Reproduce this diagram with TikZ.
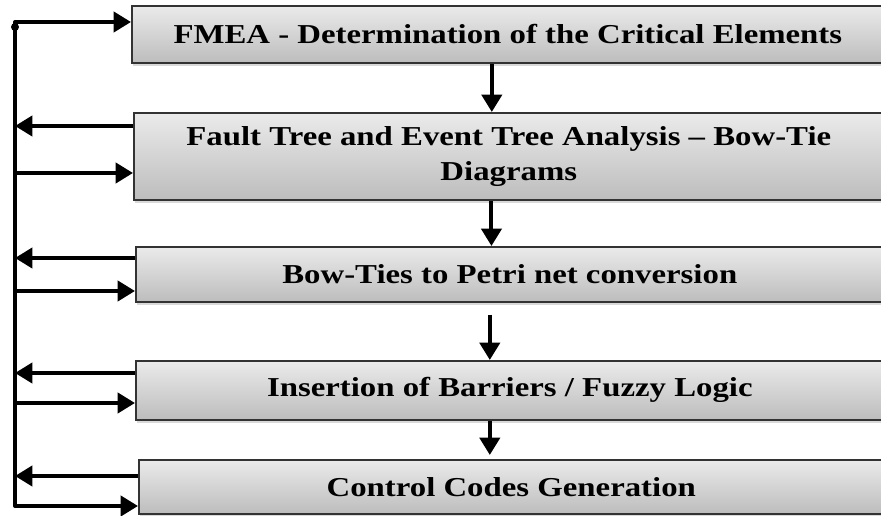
\documentclass[tikz,border=0pt]{standalone}
\usepackage{fontspec}
\newfontfamily\stagefont[FakeStretch=1.2, Ligatures=TeX]{Liberation Serif}
\usetikzlibrary{positioning}
\usetikzlibrary{arrows.meta, shadows}

\tikzset{
  stage/.style={rectangle, draw=black!80, line width=1.2pt, anchor=north west,
    top color=gray!16, bottom color=gray!52,
    drop shadow={shadow xshift=0.6pt, shadow yshift=-2.2pt, opacity=0.3},
    align=center, font=\stagefont\bfseries\fontsize{20.5}{26}\selectfont, inner sep=0pt},
  flow/.style={line width=3pt, -{Triangle[length=13pt, width=15pt]}},
  bus/.style={line width=3pt, line cap=round}
}

\begin{document}
\begin{tikzpicture}[x=0.75pt, y=-0.75pt]
\useasboundingbox (0,0) rectangle (881,516);

\node[stage, minimum width=564pt, minimum height=42.75pt] (fmea) at (131,5) {FMEA - Determination of the Critical Elements};
\node[stage, minimum width=562.5pt, minimum height=65.25pt] (fault) at (133,112) {Fault Tree and Event Tree Analysis – Bow-Tie\\Diagrams};
\node[stage, minimum width=561pt, minimum height=41.25pt] (petri) at (135,246) {Bow-Ties to Petri net conversion};
\node[stage, minimum width=561pt, minimum height=44.25pt] (fuzzy) at (135,360) {Insertion of Barriers / Fuzzy Logic};
\node[stage, minimum width=558.75pt, minimum height=40.5pt] (codes) at (138,459) {Control Codes Generation};

% feedback line on the left
\coordinate (bustop) at (15,22);
\coordinate (busbot) at (15,506);
\coordinate (out2) at (15,126);
\coordinate (in2) at (15,173);
\coordinate (out3) at (15,258);
\coordinate (in3) at (15,291);
\coordinate (out4) at (15,373);
\coordinate (in4) at (15,403);
\coordinate (out5) at (15,476);

\draw[bus] (bustop) -- (busbot);
\fill (15,27) circle (3pt);
\draw[flow] (bustop) -- (fmea.west |- bustop);
\draw[flow] (fault.west |- out2) -- (out2);
\draw[flow] (in2) -- (fault.west |- in2);
\draw[flow] (petri.west |- out3) -- (out3);
\draw[flow] (in3) -- (petri.west |- in3);
\draw[flow] (fuzzy.west |- out4) -- (out4);
\draw[flow] (in4) -- (fuzzy.west |- in4);
\draw[flow] (codes.west |- out5) -- (out5);
\draw[flow] (busbot) -- (codes.west |- busbot);

% steps down
\draw[flow] ([xshift=-12pt]fmea.south) -- ([xshift=-12pt]fmea.south |- fault.north);
\draw[flow] ([xshift=-13pt]fault.south) -- ([xshift=-13pt]fault.south |- petri.north);
\draw[flow] ([xshift=-15pt, yshift=-9pt]petri.south) -- ([xshift=-15pt]petri.south |- fuzzy.north);
\draw[flow] ([xshift=-15pt]fuzzy.south) -- ([xshift=-15pt, yshift=3pt]fuzzy.south |- codes.north);

\end{tikzpicture}
\end{document}
